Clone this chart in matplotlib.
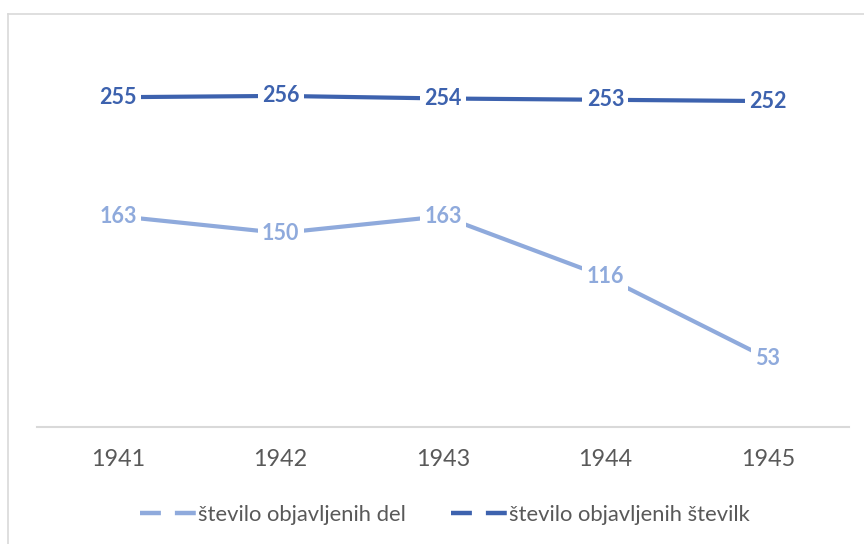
import matplotlib
matplotlib.use('Agg')
import matplotlib.pyplot as plt
from matplotlib.lines import Line2D

plt.rcParams['font.family'] = ['Lato', 'DejaVu Sans']

years = ['1941', '1942', '1943', '1944', '1945']
dela = [163, 150, 163, 116, 53]
stevilke = [255, 256, 254, 253, 252]
names = ['število objavljenih del', 'število objavljenih številk']
colors = ['#8FAADC', '#3D62AE']
text_gray = '#595959'

fig = plt.figure(figsize=(8.64, 5.44), dpi=100)
ax = fig.add_axes([37/864, 117/544, (849-37)/864, (505-117)/544])

x = list(range(len(years)))
for vals, col in zip([dela, stevilke], colors):
    ax.plot(x, vals, color=col, lw=3, solid_capstyle='round', zorder=2)
    for xi, v in zip(x, vals):
        ax.annotate(str(v), (xi, v), ha='center', va='center',
                    fontsize=15.5, fontweight='bold', color=col, zorder=3,
                    bbox=dict(boxstyle='square,pad=0.2', fc='white', ec='none'))

ax.set_xlim(-0.5, 4.5)
ax.set_ylim(0, 300)
ax.set_xticks(x)
ax.set_xticklabels(years, fontsize=16.8, color=text_gray)
ax.set_yticks([])
ax.tick_params(axis='x', length=0, pad=16)
for s in ['top', 'right', 'left']:
    ax.spines[s].set_visible(False)
ax.spines['bottom'].set_color('#D9D9D9')
ax.spines['bottom'].set_linewidth(1.5)

# legend handle: dash - gap - dash, like the Excel legend key
handles = [Line2D([0], [0], color=c, lw=3.2, dashes=(4.7, 3.15)) for c in colors]
fig.legend(handles, names, loc='center', bbox_to_anchor=(445/864, 1-515/544),
           ncol=2, frameon=False, fontsize=15.8, labelcolor=text_gray,
           handlelength=2.55, handletextpad=0.08, columnspacing=2.05)

# chart border
fig.add_artist(Line2D([8/864, 8/864], [0, 1-14/544], color='#D9D9D9', lw=1.2))
fig.add_artist(Line2D([8/864, 1], [1-14/544, 1-14/544], color='#D9D9D9', lw=1.2))

fig.savefig('out.png', dpi=100)
